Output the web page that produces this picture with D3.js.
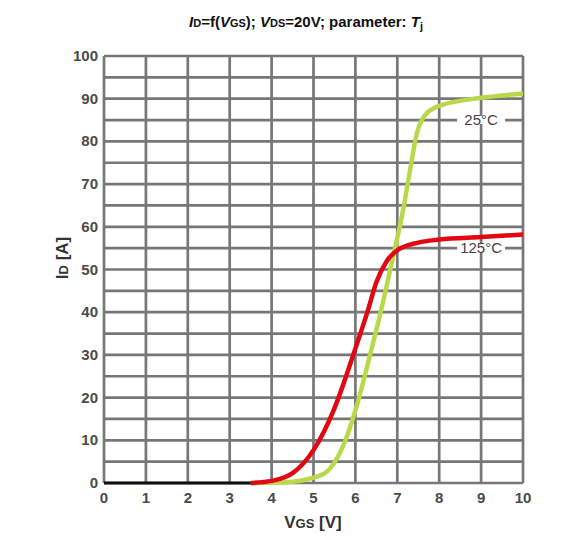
<!DOCTYPE html>
<html lang="en">
<head>
    <meta charset="UTF-8">
    <title>ID vs VGS</title>
    <script src="https://d3js.org/d3.v7.min.js"></script>
    <style>
        body {
            margin: 0;
            background: white;
            font-family: "Liberation Sans", Arial, sans-serif;
        }
        .tick-label {
            font-size: 15px;
            font-weight: bold;
            fill: #4a4a4a;
        }
        .axis-title {
            font-size: 17px;
            font-weight: bold;
            fill: #333;
        }
        .curve-label {
            font-size: 15px;
            fill: #444;
        }
    </style>
</head>
<body>
    <svg width="580" height="540"></svg>
    <script>
        // Data
        const xTicks = [0, 1, 2, 3, 4, 5, 6, 7, 8, 9, 10];
        const yTicks = [0, 10, 20, 30, 40, 50, 60, 70, 80, 90, 100];
        const yGrid = d3.range(0, 101, 5);

        // common part below threshold
        const offVgs = [0, 3.5];
        const offId = [0, 0];

        // Tj = 25°C
        const vgs25 = [3.5, 4.5, 4.9, 5.3, 5.7, 6.0, 6.35, 6.65, 6.9, 7.15, 7.3, 7.47, 7.65, 8.0, 9.0, 10.0];
        const id25 = [0, 0.3, 1, 2.5, 8.5, 17, 30, 42, 53, 64.5, 73, 82, 86, 88.3, 90.2, 91.2];

        // Tj = 125°C
        const vgs125 = [3.5, 4.0, 4.5, 5.0, 5.5, 6.0, 6.3, 6.5, 6.75, 7.0, 7.5, 8.0, 9.0, 10.0];
        const id125 = [0, 0.5, 2.3, 7.7, 17.5, 31.5, 40.5, 47, 52, 54.5, 56.3, 57, 57.6, 58.2];

        const labels = [
            {text: "25°C", x: 9.0, y: 85},
            {text: "125°C", x: 9.0, y: 55}
        ];

        const margin = {top: 56, right: 57, bottom: 57, left: 104},
              width = 580 - margin.left - margin.right,
              height = 540 - margin.top - margin.bottom;

        const svg = d3.select("svg");
        const g = svg.append("g")
                     .attr("transform", `translate(${margin.left},${margin.top})`);

        const x = d3.scaleLinear().domain([0, 10]).range([0, width]);
        const y = d3.scaleLinear().domain([0, 100]).range([height, 0]);

        // grid
        g.selectAll(".vgrid")
         .data(xTicks)
         .enter().append("line")
         .attr("x1", d => x(d)).attr("x2", d => x(d))
         .attr("y1", 0).attr("y2", height)
         .attr("stroke", "#777")
         .attr("stroke-width", 2.7);

        g.selectAll(".hgrid")
         .data(yGrid)
         .enter().append("line")
         .attr("x1", 0).attr("x2", width)
         .attr("y1", d => y(d)).attr("y2", d => y(d))
         .attr("stroke", "#777")
         .attr("stroke-width", 2.7);

        // curve labels sit on the grid with a white box behind
        const lab = g.selectAll(".lab")
                     .data(labels)
                     .enter().append("g")
                     .attr("transform", d => `translate(${x(d.x)},${y(d.y)})`);
        lab.append("rect")
           .attr("x", -24).attr("y", -4)
           .attr("width", 48).attr("height", 8)
           .attr("fill", "white");
        lab.append("text")
           .attr("class", "curve-label")
           .attr("text-anchor", "middle")
           .attr("y", 5)
           .text(d => d.text);

        // curves
        const line = d3.line()
                       .x(d => x(d[0]))
                       .y(d => y(d[1]))
                       .curve(d3.curveMonotoneX);

        g.append("path")
         .datum(d3.zip(vgs25, id25))
         .attr("fill", "none")
         .attr("stroke", "#b9d94a")
         .attr("stroke-width", 4.5)
         .attr("d", line);

        g.append("path")
         .datum(d3.zip(vgs125, id125))
         .attr("fill", "none")
         .attr("stroke", "#e30613")
         .attr("stroke-width", 4.5)
         .attr("d", line);

        g.append("path")
         .datum(d3.zip(offVgs, offId))
         .attr("fill", "none")
         .attr("stroke", "#111")
         .attr("stroke-width", 3)
         .attr("d", line);

        // tick labels
        g.selectAll(".ylab")
         .data(yTicks)
         .enter().append("text")
         .attr("class", "tick-label")
         .attr("x", -6)
         .attr("y", d => y(d) + 5)
         .attr("text-anchor", "end")
         .text(d => d);

        g.selectAll(".xlab")
         .data(xTicks)
         .enter().append("text")
         .attr("class", "tick-label")
         .attr("x", d => x(d))
         .attr("y", height + 20)
         .attr("text-anchor", "middle")
         .text(d => d);

        // axis titles
        const xt = svg.append("text")
                      .attr("class", "axis-title")
                      .attr("x", 313)
                      .attr("y", 528)
                      .attr("text-anchor", "middle");
        xt.append("tspan").text("V");
        xt.append("tspan").attr("font-size", "13px").text("GS");
        xt.append("tspan").text(" [V]");

        const yt = svg.append("text")
                      .attr("class", "axis-title")
                      .attr("transform", "translate(68,258) rotate(-90)")
                      .attr("text-anchor", "middle");
        yt.append("tspan").text("I");
        yt.append("tspan").attr("font-size", "13px").text("D");
        yt.append("tspan").text(" [A]");

        // title
        const title = svg.append("text")
                         .attr("x", 306)
                         .attr("y", 27)
                         .attr("text-anchor", "middle")
                         .attr("font-size", "15px")
                         .attr("font-weight", "bold")
                         .attr("fill", "#111");
        title.append("tspan").attr("font-style", "italic").text("I");
        title.append("tspan").attr("font-size", "11px").text("D");
        title.append("tspan").text("=f(");
        title.append("tspan").attr("font-style", "italic").text("V");
        title.append("tspan").attr("font-size", "11px").text("GS");
        title.append("tspan").text("); ");
        title.append("tspan").attr("font-style", "italic").text("V");
        title.append("tspan").attr("font-size", "11px").text("DS");
        title.append("tspan").text("=20V; parameter:  ");
        title.append("tspan").attr("font-style", "italic").text("T");
        title.append("tspan").attr("font-size", "11px").attr("dy", 3).text("j");
    </script>
</body>
</html>
